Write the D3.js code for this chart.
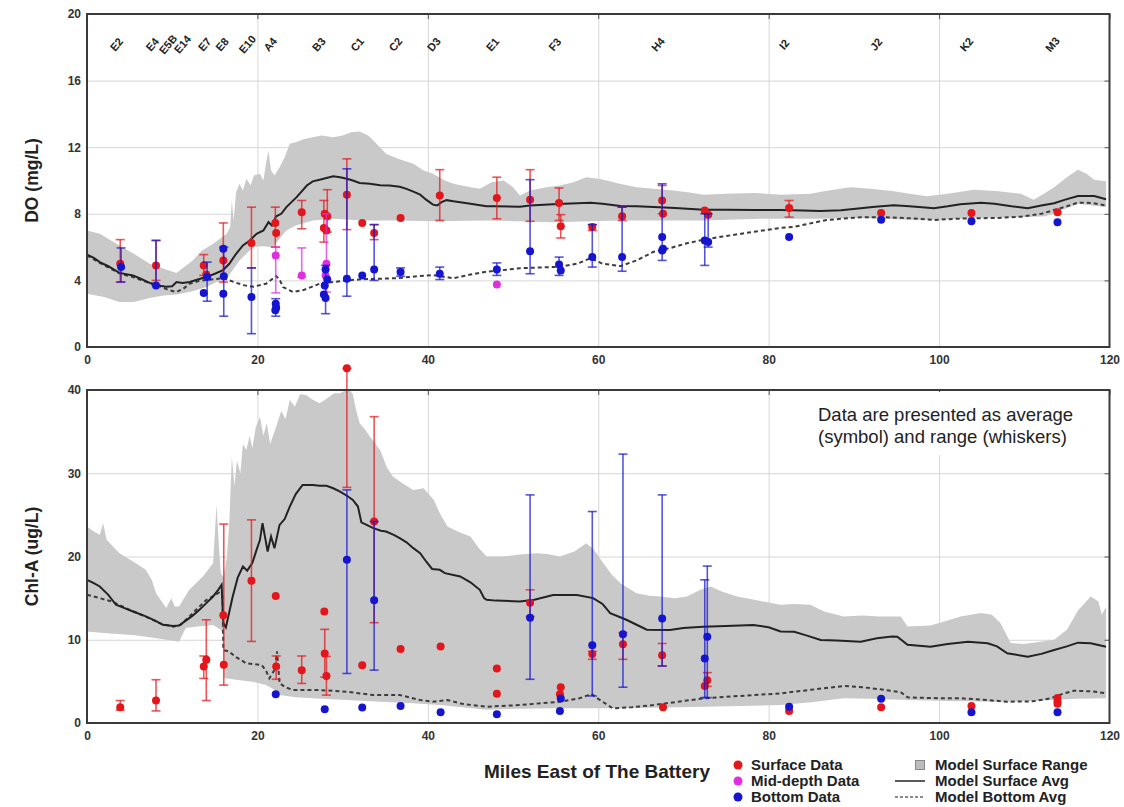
<!DOCTYPE html>
<html>
<head>
<meta charset="utf-8">
<script src="https://cdn.jsdelivr.net/npm/d3@7"></script>
<style>
  body { margin: 0; background: #fff; }
  svg { display: block; }
</style>
</head>
<body>
<svg id="chart" width="1124" height="807"></svg>
<script>
// ---------- Stations along the estuary (miles east of The Battery) ----------
const stationNames = ["E2","E4","E5B","E14","E7","E8","E10","A4","B3","C1","C2","D3","E1","F3","H4","I2","J2","K2","M3"];
const stationMiles = [3.55,7.75,9.6,11.3,13.9,15.95,18.9,21.6,27.3,31.8,36.3,40.8,47.7,55.0,67.1,81.9,92.7,103.3,113.4];

const xTicks = [0, 20, 40, 60, 80, 100, 120];
const doTicks = [0, 4, 8, 12, 16, 20];
const chlTicks = [0, 10, 20, 30, 40];

// ---------- Observed DO (mg/L): [mile, average, min, max] ----------
const doSurface = [
  [3.9,5.0,3.9,6.45],[8.1,4.9,4.0,6.4],[13.7,4.9,4.3,5.55],[14.0,4.35,null,null],
  [16.0,5.2,3.9,7.45],[19.3,6.25,4.75,8.4],[22.1,7.45,6.0,8.4],[22.2,6.85,null,null],
  [25.2,8.1,7.1,8.8],[27.8,7.15,6.3,8.8],[27.9,8.0,null,null],[28.2,7.85,6.9,9.45],[28.1,7.0,null,null],
  [30.5,9.15,7.05,11.3],[32.3,7.45,null,null],[33.7,6.85,6.45,7.35],[36.8,7.75,null,null],
  [41.4,9.1,7.6,10.65],[48.1,8.95,7.7,10.2],[52.0,8.85,7.55,10.65],[55.4,8.65,7.6,9.55],
  [55.6,7.25,6.55,7.95],[59.3,7.2,7.0,7.35],[62.8,7.85,7.6,8.4],[67.5,8.8,8.0,9.7],[67.6,8.0,null,null],
  [72.5,8.2,null,null],[72.9,7.95,null,null],[82.4,8.35,7.8,8.8],[93.2,8.05,null,null],
  [103.8,8.05,null,null],[113.9,8.1,null,null]
];
const doMid = [
  [22.15,5.5,3.25,6.0],[25.2,4.3,4.2,5.95],[28.1,5.0,3.3,8.0],[28.0,4.3,null,null],[48.1,3.75,null,null]
];
const doBottom = [
  [4.0,4.8,3.9,5.95],[8.1,3.7,3.7,6.4],[14.1,4.2,2.75,5.1],[13.7,3.25,null,null],
  [16.0,5.9,null,null],[16.05,4.25,1.85,6.0],[16.0,3.2,null,null],[19.3,3.0,0.8,4.75],
  [22.15,2.6,1.85,2.9],[22.2,2.35,null,null],[22.1,2.2,null,null],
  [28.0,4.65,2.0,4.9],[28.2,4.05,null,null],[27.9,3.7,null,null],[27.8,3.15,null,null],[28.0,2.95,null,null],
  [30.5,4.1,3.05,10.7],[32.3,4.3,null,null],[33.7,4.65,4.0,7.35],[36.8,4.5,4.25,4.75],
  [41.4,4.4,4.05,4.8],[48.1,4.65,4.3,5.05],[52.0,5.75,4.4,10.05],[55.4,4.95,4.3,5.4],[55.6,4.6,null,null],
  [59.3,5.4,4.8,7.35],[62.8,5.4,4.55,8.4],[67.5,6.6,5.2,9.8],[67.6,5.9,null,null],[67.5,5.8,null,null],
  [72.5,6.4,4.9,8.0],[72.9,6.3,6.0,8.0],[82.4,6.6,null,null],[93.2,7.65,null,null],
  [103.8,7.55,null,null],[113.9,7.5,null,null]
];

// ---------- Modelled DO: [mile, value] ----------
const doRangeTop = [
  [0,7.0],[1.5,6.8],[3.8,6.1],[5.5,5.6],[7.35,5.0],[9,4.7],[10.5,4.45],[12.4,5.2],[13.5,5.8],[14.8,6.2],
  [16.4,6.8],[16.8,7.2],[17.0,8.8],[17.2,7.6],[17.5,9.3],[17.9,9.8],[18.3,9.4],[18.7,10.1],[19.2,9.7],
  [19.6,10.3],[20.3,10.4],[20.7,10.0],[21.0,11.0],[21.3,11.8],[21.6,10.6],[22.0,10.3],[22.6,10.8],
  [23.2,11.4],[23.8,12.2],[24.5,12.3],[25.5,12.5],[26.5,12.6],[27.5,12.7],[28.9,12.6],[30.0,12.7],
  [31.0,12.9],[32.0,12.95],[33.0,12.7],[33.6,12.4],[35.1,11.6],[36.5,11.3],[38.3,11.0],[39.5,10.6],
  [40.6,10.4],[42.0,10.0],[43.0,9.8],[45,9.6],[46.1,9.5],[47.5,9.9],[48.9,10.0],[50.0,9.6],[50.8,9.1],
  [52,9.4],[53.9,9.6],[55.5,9.7],[57.1,9.9],[58.6,10.2],[60.0,10.1],[61.0,10.0],[62.5,9.8],[64.5,9.6],
  [66.5,9.5],[68.8,9.4],[70.5,9.3],[72.4,9.15],[75,9.2],[78.3,9.25],[81.4,9.15],[84.9,9.2],[87,9.4],
  [89.6,9.6],[92,9.5],[94.7,9.35],[96.5,9.2],[98.6,9.05],[101,9.2],[104.1,9.45],[107,9.35],[109.6,9.2],
  [111.1,8.85],[112.3,9.2],[113.5,9.6],[115,10.2],[116.3,10.65],[117.3,10.4],[118.2,10.05],[119.6,9.95]
];
const doRangeBottom = [
  [0,3.2],[2,3.0],[3.8,2.7],[5.5,2.7],[7.35,2.95],[9,3.1],[10.5,3.15],[12.4,3.35],[14,3.6],[15.2,3.9],
  [16.4,4.1],[17.2,4.7],[17.9,5.2],[18.7,5.6],[19.5,6.0],[20.5,6.05],[21.8,6.0],[22.6,6.5],[23.4,7.0],
  [24.5,7.3],[26.5,7.6],[28.9,7.7],[32.3,7.6],[36.3,7.6],[40.6,7.55],[46.9,7.6],[54.7,7.5],[62.6,7.6],
  [72.4,7.6],[79,7.7],[85,7.7],[90.8,7.75],[96.6,7.65],[100,7.65],[104.1,7.75],[109.6,7.8],[112.5,7.85],
  [113.5,8.05],[115,8.35],[116.3,8.6],[118,8.5],[119.6,8.4]
];
const doSurfaceAvg = [
  [0,5.55],[0.8,5.35],[1.5,5.1],[2.5,4.85],[3.8,4.45],[5.4,4.3],[6.3,4.1],[7.35,3.85],[8.3,3.7],[9.3,3.62],
  [10.0,3.65],[10.5,3.9],[11.2,3.85],[12.05,3.9],[13,4.05],[14.0,4.2],[15,4.4],[15.96,4.62],[16.7,5.0],
  [17.5,5.6],[18.3,6.1],[19.1,6.4],[19.9,6.8],[20.7,7.0],[21.3,7.5],[21.7,7.3],[22.2,7.85],[22.8,8.0],
  [23.4,8.4],[24.0,8.7],[24.6,9.0],[25.2,9.35],[25.8,9.7],[26.5,9.95],[27.3,10.05],[28.1,10.15],[28.9,10.25],
  [29.7,10.2],[30.5,10.1],[31.2,10.0],[32.0,9.85],[33.2,9.8],[34.4,9.72],[35.5,9.7],[36.7,9.62],[37.5,9.5],
  [38.3,9.33],[39.1,9.15],[39.8,8.85],[40.6,8.55],[41.1,8.5],[41.6,8.7],[42.2,8.82],[43,8.75],[45,8.6],
  [46.9,8.45],[48,8.45],[50.8,8.43],[52,8.5],[54.7,8.58],[56,8.6],[59.1,8.67],[60.5,8.6],[62.6,8.47],
  [64.5,8.45],[66.5,8.41],[69,8.35],[72.4,8.25],[75,8.24],[78.3,8.23],[81.4,8.23],[84,8.2],[86.1,8.17],
  [88.5,8.22],[90.8,8.33],[92.5,8.42],[94.7,8.52],[96.5,8.45],[98,8.4],[99.4,8.33],[101,8.45],[102.5,8.58],
  [104.9,8.67],[106.5,8.6],[108.5,8.45],[110.4,8.33],[112,8.5],[113.5,8.63],[114.8,8.85],[116.3,9.07],
  [118.2,9.07],[119.6,8.87]
];
const doBottomAvg = [
  [0,5.5],[1.5,5.05],[2.8,4.7],[3.8,4.42],[5.4,4.2],[7.0,3.9],[8.3,3.7],[9.6,3.42],[10.5,3.3],[11.3,3.5],
  [12.05,3.8],[13,3.95],[14.0,4.02],[16.0,4.13],[17.5,3.86],[18.5,3.7],[19.5,3.62],[21.0,3.8],[22.2,4.26],
  [22.6,4.05],[23.0,3.6],[24.2,3.3],[25.4,3.42],[26.3,3.6],[27.3,3.8],[28.9,3.9],[30.5,4.0],[32.3,4.07],
  [36.3,4.13],[39.1,4.26],[40.6,4.32],[43.0,4.13],[45,4.35],[46.9,4.52],[48.5,4.6],[50.8,4.73],[55.5,4.82],
  [57.5,5.0],[59.1,5.33],[60.5,5.0],[62.6,4.86],[64.5,5.2],[66.5,5.72],[68.5,5.95],[70.4,6.23],[72.4,6.45],
  [74.4,6.62],[78.3,6.92],[81.4,7.15],[83,7.22],[86.8,7.63],[90.8,7.79],[93.5,7.8],[96.6,7.73],[99.4,7.63],
  [102,7.7],[104.1,7.73],[107,7.75],[109.6,7.83],[112,8.0],[113.5,8.23],[115,8.45],[116.3,8.67],[118,8.65],
  [119.6,8.5]
];

// ---------- Observed Chl-A (ug/L): [mile, average, min, max] ----------
const chlSurface = [
  [3.9,1.9,1.55,2.7],[8.1,2.7,1.45,5.2],[13.7,6.8,5.35,8.05],[14.0,7.6,2.7,12.4],
  [16.0,12.95,null,null],[16.05,7.0,4.55,23.9],[19.3,17.1,9.8,24.4],[22.15,15.25,null,null],
  [22.2,6.8,5.25,8.05],[25.2,6.35,4.75,8.05],[27.85,13.4,null,null],[27.9,8.35,5.5,11.25],
  [28.1,5.65,3.35,8.0],[30.5,42.6,28.3,42.6],[32.3,6.95,null,null],[33.7,24.2,12.05,36.8],
  [36.8,8.9,null,null],[41.5,9.2,null,null],[48.1,6.55,null,null],[48.1,3.5,null,null],
  [52.0,14.45,12.8,16.0],[55.6,4.3,null,null],[55.5,3.45,null,null],[59.3,8.3,7.65,8.6],
  [62.9,9.45,7.65,10.85],[67.5,8.15,6.85,9.55],[67.6,1.9,null,null],[72.5,4.45,null,null],
  [72.8,5.15,4.4,6.05],[82.4,1.45,null,null],[93.2,1.9,null,null],[103.8,2.05,null,null],
  [113.9,3.0,null,null],[113.9,2.6,null,null],[113.9,2.3,null,null]
];
const chlMid = [];
const chlBottom = [
  [22.15,3.45,null,null],[27.9,1.65,null,null],[30.5,19.6,5.95,28.0],[32.3,1.85,null,null],
  [33.7,14.75,6.35,24.2],[36.8,2.05,null,null],[41.5,1.3,null,null],[48.1,1.05,null,null],
  [52.0,12.65,5.25,27.4],[55.6,2.95,null,null],[55.5,1.45,null,null],[59.3,9.35,3.25,25.4],
  [62.9,10.65,4.3,32.3],[67.5,12.55,6.85,27.4],[72.5,7.75,3.05,17.2],[72.8,10.35,3.05,18.85],
  [82.4,1.95,null,null],[93.2,2.9,null,null],[103.8,1.3,null,null],[113.9,1.3,null,null]
];

// ---------- Modelled Chl-A: [mile, value] ----------
const chlRangeTop = [
  [0,23.6],[0.8,23.0],[1.5,22.6],[1.9,24.0],[2.3,22.0],[3.8,20.4],[5.4,19.4],[6.9,18.4],[7.6,17.2],[8.1,15.6],
  [9.3,13.8],[9.9,15.0],[10.3,14.0],[10.8,14.0],[12.0,16.0],[13.6,17.6],[14.8,19.2],[15.2,26.2],[15.5,21],
  [15.7,18.0],[16.0,17.5],[16.4,19.8],[16.7,24],[17.0,32.0],[17.3,28.5],[17.6,31.5],[18.0,30],[18.3,33.5],
  [18.7,32.8],[19.1,34.5],[19.4,33.0],[19.8,35.5],[20.3,36.8],[20.7,34.5],[21.1,36],[21.5,33.5],[22.2,35.6],
  [22.8,37.5],[23.3,36.5],[23.8,38.8],[24.4,38.0],[25.0,39.5],[25.7,39.4],[26.4,38.9],[27.3,38.4],[28.2,39.0],
  [29.0,39.6],[29.7,39.6],[30.4,40],[30.8,40],[31.2,39.5],[31.6,37.5],[32.0,36.0],[32.6,35.3],[33.2,34.4],
  [33.8,33.6],[34.4,32.8],[35.2,30.7],[35.9,29.6],[37,28.8],[38.3,28.0],[39.5,28.2],[40.1,27.5],[40.7,26.8],
  [41.4,25.2],[42.3,23.6],[43.5,23.0],[45.0,22.4],[46.0,21.0],[46.9,20.0],[48.9,20.0],[50.5,20.2],[52.8,20.4],
  [54,20.3],[55.5,20.0],[57.2,20.6],[58.6,21.6],[59.5,20.8],[60.6,19.2],[61.6,17.8],[62.6,16.8],[64.5,15.6],
  [66,15.3],[67.3,15.2],[69,15.0],[70.4,15.2],[72,16.0],[73.2,16.4],[74.5,15.8],[76.3,15.2],[78.3,14.8],
  [81.4,14.2],[83,14.3],[84.9,14.2],[86.5,13.4],[88.8,12.8],[91,12.9],[93,12.8],[95.5,12.8],[96.3,11.6],
  [99,11.7],[101,12.3],[102.5,12.8],[104.9,13.2],[106.2,13.0],[107.2,12.0],[108.4,9.6],[110,9.5],[111.5,9.7],
  [113.5,10.0],[115.0,11.2],[116.3,13.5],[117.8,15.2],[118.7,14.6],[119.1,13.0],[119.6,14.0]
];
const chlRangeBottom = [
  [0,11.0],[2,10.8],[5.6,10.55],[8,10.2],[9.5,9.97],[10.8,9.77],[11.3,10.8],[11.6,11.4],[13,11.6],[14.8,11.77],
  [15.7,11.2],[16.0,10.5],[16.1,5.4],[17.5,5.2],[19.4,4.96],[21.0,4.56],[22.0,4.0],[22.6,3.36],[24.5,3.1],
  [26.5,2.97],[30.5,2.76],[34.4,2.56],[38.3,2.37],[41.4,2.16],[46.9,1.6],[50,1.7],[54.7,1.76],[62.6,1.76],
  [68,1.85],[72.4,1.96],[81.4,2.16],[85,2.5],[88.8,2.97],[92,2.9],[96.3,2.76],[101,2.65],[106.5,2.56],
  [110,2.6],[113.5,2.76],[116,2.9],[119.6,2.97]
];
const chlSurfaceAvg = [
  [0,17.2],[0.8,16.8],[1.5,16.4],[2.5,15.4],[3.4,14.2],[4.4,13.8],[5.4,13.4],[6.9,12.8],[8.0,12.3],[8.9,11.8],
  [10.1,11.65],[10.8,11.7],[11.6,12.3],[12.4,12.9],[13.2,13.6],[14.0,14.4],[14.8,15.2],[15.4,16.0],[15.8,16.6],
  [16.0,12.0],[16.3,11.5],[17.1,15.2],[17.7,17.5],[18.3,18.8],[18.8,18.3],[19.4,19.2],[19.9,20.8],[20.3,22.0],
  [20.6,24.0],[20.9,22.3],[21.2,20.6],[21.6,22.4],[22.0,21.0],[22.6,23.8],[23.2,24.5],[23.8,26.0],[24.5,27.5],
  [25.3,28.6],[26.5,28.6],[27.3,28.5],[28.1,28.5],[28.9,28.2],[29.7,27.8],[30.5,27.3],[31.2,26.8],[31.8,26.0],
  [32.2,24.1],[33.0,23.7],[33.6,23.4],[34.5,23.1],[35.1,23.0],[36.0,22.6],[36.7,22.2],[37.5,21.7],[38.3,21.0],
  [39.1,20.4],[39.8,19.4],[40.5,18.5],[41.4,18.4],[42.0,18.0],[43.8,17.6],[45,16.9],[46.1,16.0],[46.6,15.0],
  [46.9,14.8],[48,14.7],[50.8,14.6],[52.5,14.8],[54.7,15.38],[57.5,15.38],[59.4,15.0],[60.5,14.3],[61.4,13.2],
  [63.3,12.4],[64.5,11.8],[65.7,11.2],[68.4,11.17],[70,11.4],[72.3,11.57],[75,11.65],[78.2,11.77],[80,11.5],
  [81.4,11.0],[83,10.97],[84.5,10.5],[86.1,9.97],[88,9.9],[90.8,9.77],[92.7,10.17],[94.5,10.4],[95.1,10.37],
  [96.3,9.4],[99,9.17],[101,9.5],[103.4,9.77],[105.7,9.57],[106.8,9.2],[108,8.37],[110.4,7.97],[112,8.3],
  [113.5,8.77],[115,9.2],[116.3,9.65],[117.8,9.57],[119.6,9.17]
];
const chlBottomAvg = [
  [0,15.4],[1.5,15.0],[3.0,14.57],[5,13.6],[6.9,12.77],[8.5,12.0],[10.1,11.57],[11,11.8],[12.0,12.77],
  [13.0,13.8],[14.0,14.77],[15.5,15.65],[15.9,15.3],[16.0,8.77],[16.7,8.57],[17.5,7.9],[18.7,7.17],[20.5,6.97],
  [21.0,6.3],[21.4,5.37],[22.0,6.37],[22.3,8.6],[22.6,4.77],[23.3,4.3],[24.2,3.96],[27.3,3.96],[30.5,3.76],
  [33.6,3.36],[36.7,3.36],[39.1,2.76],[40.6,2.56],[42.3,2.76],[44,2.3],[46.9,1.96],[50.8,2.16],[55.5,2.56],
  [57.8,2.97],[59.2,3.48],[60.0,2.9],[61.7,1.76],[64,1.9],[66.5,2.16],[72.4,2.97],[78.3,3.36],[81.4,3.56],
  [85,4.0],[88.8,4.44],[91,4.3],[93.1,4.04],[95.5,3.7],[96.3,3.08],[100,2.97],[102.5,2.97],[105,2.8],
  [108.0,2.56],[111,2.6],[113.1,2.97],[114.5,3.5],[115.8,3.88],[118,3.8],[119.6,3.56]
];

// ---------- Styling ----------
const COLORS = { surface: "#e3161c", mid: "#e02ee0", bottom: "#1515d0" };
const BAND = "#c9c9c9";
const FONT = "'Liberation Sans', Arial, Helvetica, sans-serif";

const svg = d3.select("#chart");
svg.append("rect").attr("width", 1124).attr("height", 807).attr("fill", "#fff");

const x = d3.scaleLinear().domain([0, 120]).range([87, 1109.5]);

const panels = [
  {
    y: d3.scaleLinear().domain([0, 20]).range([347, 14]),
    ticks: doTicks, title: "DO (mg/L)",
    top: doRangeTop, bot: doRangeBottom, sAvg: doSurfaceAvg, bAvg: doBottomAvg,
    surface: doSurface, mid: doMid, bottom: doBottom, stations: true
  },
  {
    y: d3.scaleLinear().domain([0, 40]).range([723, 390]),
    ticks: chlTicks, title: "Chl-A (ug/L)",
    top: chlRangeTop, bot: chlRangeBottom, sAvg: chlSurfaceAvg, bAvg: chlBottomAvg,
    surface: chlSurface, mid: chlMid, bottom: chlBottom, note: true
  }
];

panels.forEach(p => {
  const g = svg.append("g");
  const [y0, y1] = p.y.range();          // y0 bottom, y1 top
  const [x0, x1] = x.range();

  // grid lines
  g.append("g").attr("transform", `translate(0,${y0})`)
    .call(d3.axisBottom(x).tickValues(xTicks.slice(1, -1)).tickSize(-(y0 - y1)).tickFormat(""))
    .call(a => a.select(".domain").remove())
    .call(a => a.selectAll("line").attr("stroke", "#d6d6d6").attr("stroke-width", 1));
  g.append("g").attr("transform", `translate(${x0},0)`)
    .call(d3.axisLeft(p.y).tickValues(p.ticks.slice(1, -1)).tickSize(-(x1 - x0)).tickFormat(""))
    .call(a => a.select(".domain").remove())
    .call(a => a.selectAll("line").attr("stroke", "#d6d6d6").attr("stroke-width", 1));

  // model surface range band
  const poly = p.top.concat(p.bot.slice().reverse());
  g.append("path")
    .attr("d", d3.line().x(d => x(d[0])).y(d => p.y(d[1]))(poly) + "Z")
    .attr("fill", BAND).attr("stroke", "none");

  // model averages
  const line = d3.line().x(d => x(d[0])).y(d => p.y(d[1]));
  g.append("path").attr("d", line(p.bAvg)).attr("fill", "none")
    .attr("stroke", "#3c3c3c").attr("stroke-width", 2).attr("stroke-dasharray", "4,3");
  g.append("path").attr("d", line(p.sAvg)).attr("fill", "none")
    .attr("stroke", "#222").attr("stroke-width", 2);

  // observed data: whiskers then symbols
  const drawSeries = (rows, color) => {
    const bars = rows.filter(r => r[2] != null);
    const wb = g.append("g").attr("stroke", color).attr("stroke-opacity", 0.72).attr("stroke-width", 1.6);
    bars.forEach(r => {
      const cx = x(r[0]);
      wb.append("line").attr("x1", cx).attr("x2", cx).attr("y1", p.y(r[2])).attr("y2", p.y(r[3]));
      [r[2], r[3]].forEach(v => wb.append("line")
        .attr("x1", cx - 4.5).attr("x2", cx + 4.5).attr("y1", p.y(v)).attr("y2", p.y(v)));
    });
    g.append("g").selectAll("circle").data(rows).join("circle")
      .attr("cx", d => x(d[0])).attr("cy", d => p.y(d[1])).attr("r", 4).attr("fill", color);
  };
  drawSeries(p.surface, COLORS.surface);
  drawSeries(p.mid, COLORS.mid);
  drawSeries(p.bottom, COLORS.bottom);

  // inner ticks on the right and top sides
  g.append("g").attr("transform", `translate(${x1},0)`)
    .call(d3.axisRight(p.y).tickValues(p.ticks).tickSize(-5).tickFormat(""))
    .call(a => a.select(".domain").remove())
    .call(a => a.selectAll("line").attr("stroke", "#555"));
  g.append("g").attr("transform", `translate(0,${y1})`)
    .call(d3.axisTop(x).tickValues(xTicks).tickSize(-5).tickFormat(""))
    .call(a => a.select(".domain").remove())
    .call(a => a.selectAll("line").attr("stroke", "#555"));

  // left and bottom axes with labels
  g.append("g").attr("transform", `translate(${x0},0)`)
    .call(d3.axisLeft(p.y).tickValues(p.ticks).tickSize(0).tickPadding(6))
    .call(a => a.select(".domain").remove())
    .call(a => a.selectAll("text").attr("font-family", FONT).attr("font-size", 12)
      .attr("font-weight", "bold").attr("fill", "#333"));
  g.append("g").attr("transform", `translate(0,${y0})`)
    .call(d3.axisBottom(x).tickValues(xTicks).tickSize(0).tickPadding(8))
    .call(a => a.select(".domain").remove())
    .call(a => a.selectAll("text").attr("font-family", FONT).attr("font-size", 12)
      .attr("font-weight", "bold").attr("fill", "#333"));

  // frame
  g.append("rect").attr("x", x0).attr("y", y1).attr("width", x1 - x0).attr("height", y0 - y1)
    .attr("fill", "none").attr("stroke", "#3a3a3a").attr("stroke-width", 2);

  // y-axis title
  g.append("text")
    .attr("transform", `translate(33,${(y0 + y1) / 2}) rotate(-90)`)
    .attr("text-anchor", "middle").attr("dominant-baseline", "middle")
    .attr("font-family", FONT).attr("font-size", 17.5).attr("font-weight", "bold").attr("fill", "#222")
    .text(p.title);

  // station names along the top of the DO panel
  if (p.stations) {
    g.append("g").selectAll("text").data(stationNames).join("text")
      .attr("transform", (d, i) => `translate(${x(stationMiles[i])},${y1 + 31}) rotate(-50)`)
      .attr("text-anchor", "middle").attr("dominant-baseline", "middle")
      .attr("font-family", FONT).attr("font-size", 11).attr("font-weight", "bold").attr("fill", "#222")
      .text(d => d);
  }

  // explanatory note
  if (p.note) {
    g.append("rect").attr("x", 812).attr("y", y1 + 2).attr("width", 285).attr("height", 63).attr("fill", "#fff");
    const t = g.append("text").attr("font-family", FONT).attr("font-size", 18.5).attr("fill", "#222");
    t.append("tspan").attr("x", 818).attr("y", y1 + 31).text("Data are presented as average");
    t.append("tspan").attr("x", 818).attr("y", y1 + 53).text("(symbol) and range (whiskers)");
  }
});

// x-axis title
svg.append("text").attr("x", 597).attr("y", 778).attr("text-anchor", "middle")
  .attr("font-family", FONT).attr("font-size", 19).attr("font-weight", "bold").attr("fill", "#222")
  .text("Miles East of The Battery");

// legend
const legend = svg.append("g").attr("font-family", FONT).attr("font-size", 15)
  .attr("font-weight", "bold").attr("fill", "#222");
const dotItems = [["Surface Data", COLORS.surface], ["Mid-depth Data", COLORS.mid], ["Bottom Data", COLORS.bottom]];
dotItems.forEach(([label, c], i) => {
  const cy = 765 + i * 16;
  legend.append("circle").attr("cx", 738).attr("cy", cy).attr("r", 4.5).attr("fill", c);
  legend.append("text").attr("x", 751).attr("y", cy + 5).text(label);
});
legend.append("rect").attr("x", 915.5).attr("y", 760.5).attr("width", 9).attr("height", 9)
  .attr("fill", "#bdbdbd").attr("stroke", "#888");
legend.append("text").attr("x", 935).attr("y", 770).text("Model Surface Range");
legend.append("line").attr("x1", 895).attr("x2", 925).attr("y1", 781).attr("y2", 781)
  .attr("stroke", "#222").attr("stroke-width", 1.5);
legend.append("text").attr("x", 935).attr("y", 786).text("Model Surface Avg");
legend.append("line").attr("x1", 895).attr("x2", 925).attr("y1", 797).attr("y2", 797)
  .attr("stroke", "#666").attr("stroke-width", 1.5).attr("stroke-dasharray", "3,2");
legend.append("text").attr("x", 935).attr("y", 802).text("Model Bottom Avg");
</script>
</body>
</html>
